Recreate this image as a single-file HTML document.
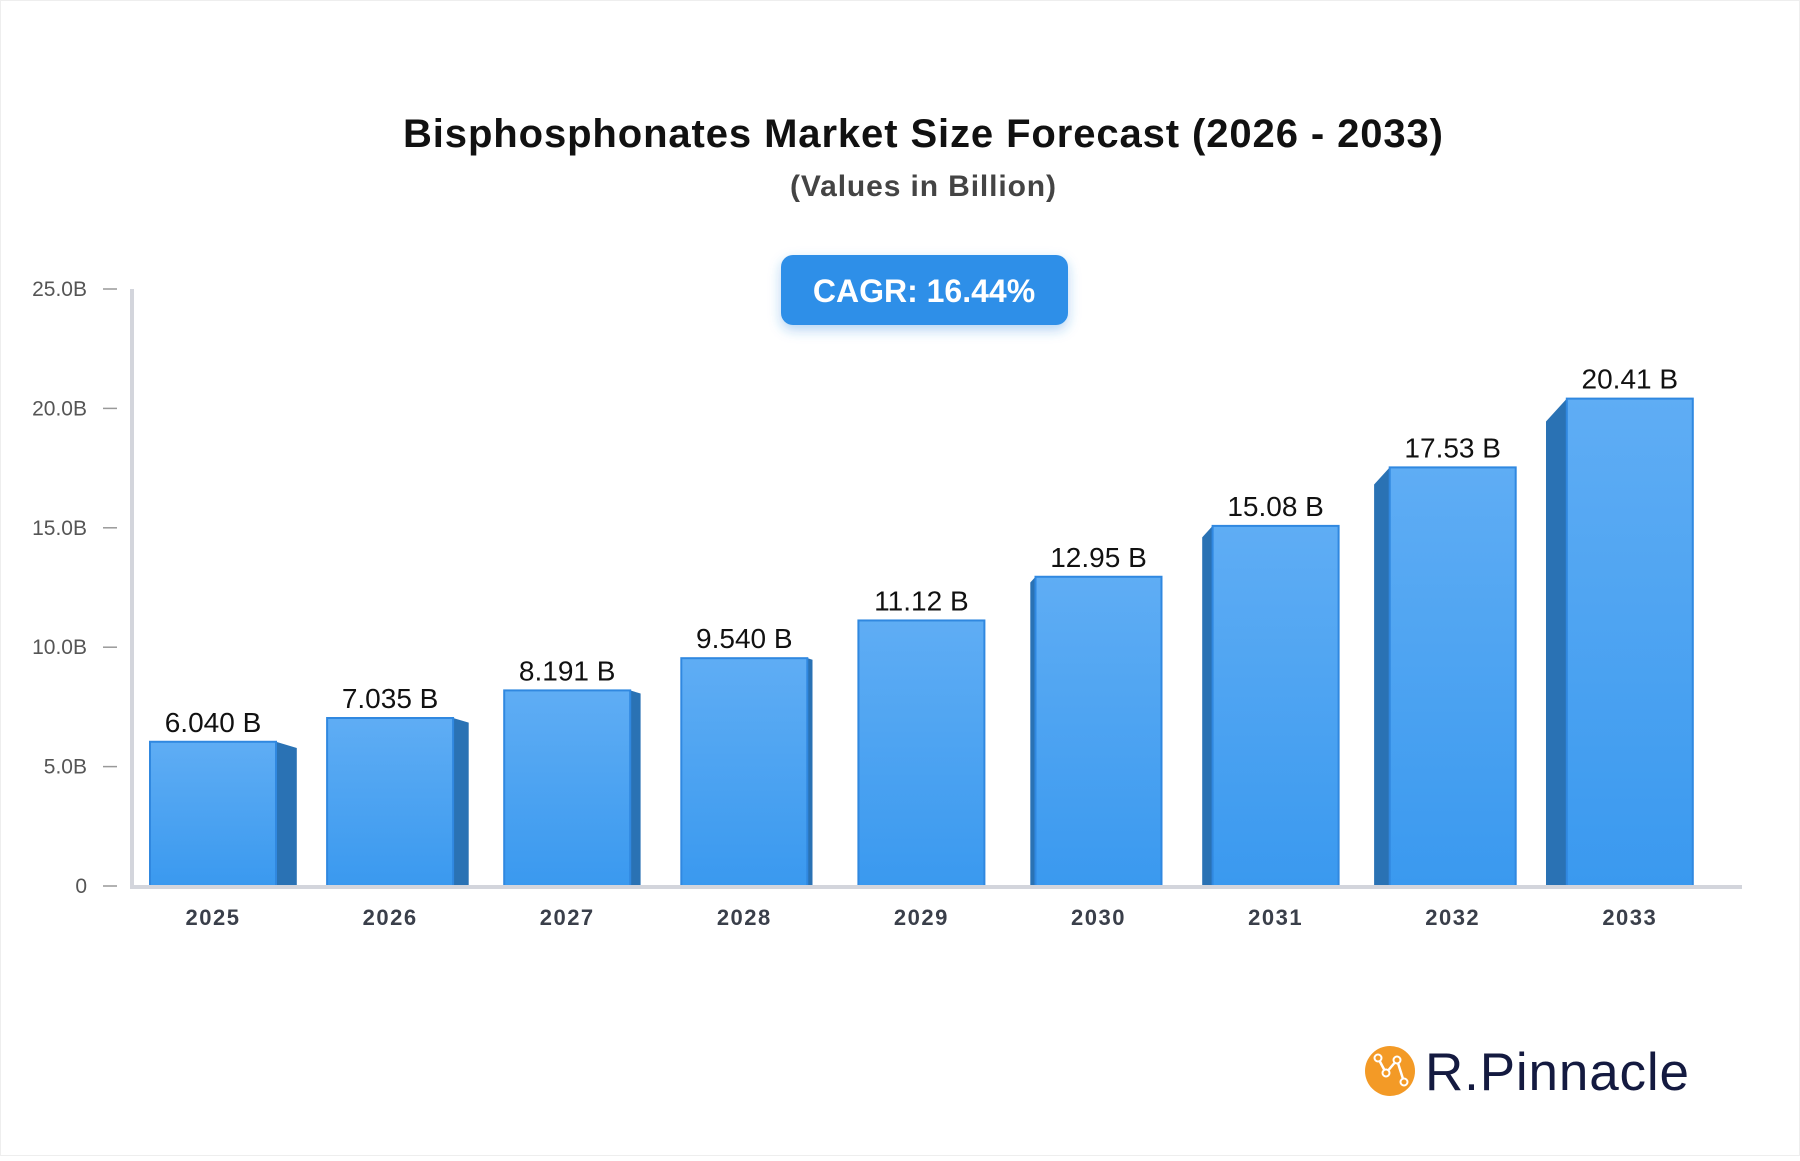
<!DOCTYPE html>
<html><head><meta charset="utf-8">
<style>
html,body{margin:0;padding:0;background:#fff;}
body{width:1800px;height:1156px;overflow:hidden;font-family:"Liberation Sans",sans-serif;}
</style></head>
<body>
<svg width="1800" height="1156" viewBox="0 0 1800 1156" xmlns="http://www.w3.org/2000/svg">
<defs>
<linearGradient id="fg" x1="0" y1="0" x2="0" y2="1">
<stop offset="0" stop-color="#5fadf4"/><stop offset="1" stop-color="#3a99ef"/>
</linearGradient>
<filter id="sh" x="-20%" y="-30%" width="140%" height="180%"><feDropShadow dx="0" dy="5" stdDeviation="6" flood-color="#2f86de" flood-opacity="0.35"/></filter>
</defs>
<rect x="0.5" y="0.5" width="1799" height="1155" fill="#fff" stroke="#eee"/>
<text x="923" y="147" text-anchor="middle" font-size="40" font-weight="bold" fill="#111" textLength="1040">Bisphosphonates Market Size Forecast (2026 - 2033)</text>
<text x="923" y="196" text-anchor="middle" font-size="30" font-weight="bold" fill="#444" textLength="266">(Values in Billion)</text>
<g filter="url(#sh)">
<rect x="781" y="255" width="287" height="70" rx="12" fill="#2f8fe8"/>
</g>
<text x="924" y="302" text-anchor="middle" font-size="32" font-weight="bold" fill="#fff">CAGR: 16.44%</text>
<g id="yaxis"></g>
<g id="bars"></g>
<g id="xaxis"></g>
<g>
<circle cx="1390" cy="1071" r="25" fill="#f39a26"/>
<polyline points="1378,1058 1386,1073 1397,1060 1404,1082" fill="none" stroke="#fff" stroke-width="2.5"/>
<circle cx="1378" cy="1058" r="3.5" fill="#f39a26" stroke="#fff" stroke-width="2"/>
<circle cx="1386" cy="1073" r="3.5" fill="#f39a26" stroke="#fff" stroke-width="2"/>
<circle cx="1397" cy="1060" r="3.5" fill="#f39a26" stroke="#fff" stroke-width="2"/>
<circle cx="1404" cy="1082" r="3.5" fill="#f39a26" stroke="#fff" stroke-width="2"/>
<text x="1425" y="1090" font-size="53" fill="#141a40" textLength="264">R.Pinnacle</text>
</g>
</svg>
<script>
const categories=["2025","2026","2027","2028","2029","2030","2031","2032","2033"];
const values=[6.040,7.035,8.191,9.540,11.12,12.95,15.08,17.53,20.41];
const valueLabels=["6.040 B","7.035 B","8.191 B","9.540 B","11.12 B","12.95 B","15.08 B","17.53 B","20.41 B"];
const yTicks=[0,5,10,15,20,25];
const yTickLabels=["0","5.0B","10.0B","15.0B","20.0B","25.0B"];
const NS="http://www.w3.org/2000/svg";
const x0=132,x1=1742,yTop=289,yBase=886,yMax=25;
const step=177.1,firstC=213,bw=126;
function yScale(v){return yBase-(v/yMax)*(yBase-yTop);}
function xCenter(i){return firstC+i*step;}
function mk(t,a,p){const e=document.createElementNS(NS,t);for(const k in a)e.setAttribute(k,a[k]);p.appendChild(e);return e;}
const ya=document.getElementById('yaxis');
const ln=mk('line',{x1:x0,y1:yTop,x2:x0,y2:yBase,stroke:'#d3d5dc','stroke-width':4},ya);


yTicks.forEach((t,i)=>{const y=yScale(t);
const tk=mk('line',{x1:103,y1:y,x2:117,y2:y,stroke:'#999','stroke-width':1.5},ya);


const tx=mk('text',{x:87,y:y+7,'text-anchor':'end','font-size':21,fill:'#555'},ya);
tx.textContent=yTickLabels[i];

});
const bg=document.getElementById('bars');
const xa=document.getElementById('xaxis');
values.forEach((v,i)=>{const c=xCenter(i),l=c-bw/2,r=c+bw/2,top=yScale(v);
const s=(4-i)*5.2;
let pts;
if(s>0){pts=[[r,top],[r+s,top+s*0.3],[r+s,yBase],[r,yBase]];}
else if(s<0){const a=-s;pts=[[l,top],[l-a,top+a*1.1],[l-a,yBase],[l,yBase]];}
if(pts){const sd=mk('polygon',{points:pts.map(p=>p.join(',')).join(' '),fill:'#2a72b4'},bg);

}
const b=mk('rect',{x:l,y:top,width:bw,height:yBase-top,fill:'url(#fg)',stroke:'#3088e0','stroke-width':2},bg);


const lb=mk('text',{x:c,y:top-10,'text-anchor':'middle','font-size':28,fill:'#111'},bg);
lb.textContent=valueLabels[i];


const xl=mk('text',{x:c,y:925,'text-anchor':'middle','font-size':22,'font-weight':'bold',fill:'#3a3f4a','letter-spacing':1.5},xa);
xl.textContent=categories[i];

});
const xl2=mk('line',{x1:x0-2,y1:yBase+1,x2:x1,y2:yBase+1,stroke:'#d3d5dc','stroke-width':4},xa);


</script>
</body></html>
